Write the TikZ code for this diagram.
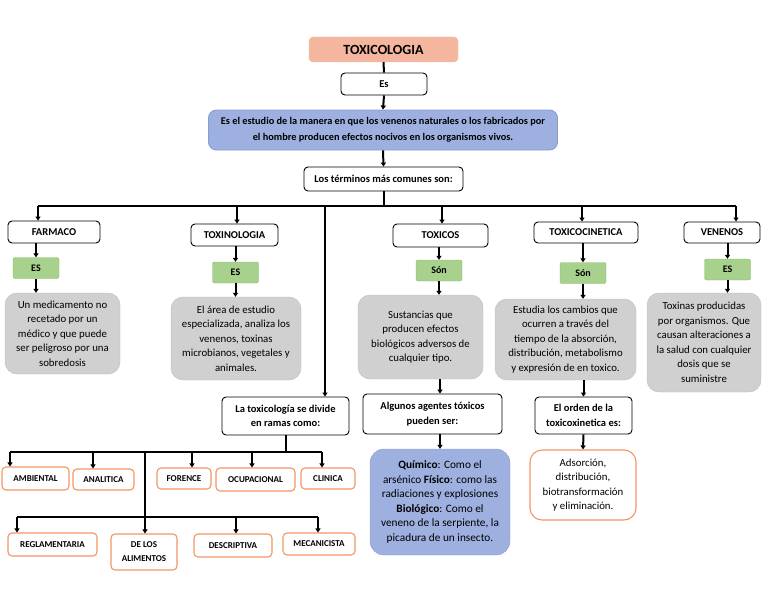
\documentclass[tikz,border=0pt]{standalone}
\usepackage{fontspec}
\setmainfont{Carlito}
\usetikzlibrary{arrows.meta}

\definecolor{titlefill}{RGB}{245,182,160}
\definecolor{deffill}{RGB}{158,176,224}
\definecolor{defline}{RGB}{136,156,212}
\definecolor{tagfill}{RGB}{169,209,142}
\definecolor{tagline}{RGB}{140,185,110}
\definecolor{notefill}{RGB}{208,208,208}
\definecolor{noteline}{RGB}{188,188,188}
\definecolor{ramaline}{RGB}{240,150,100}

\begin{document}
\begin{tikzpicture}[x=1pt,y=-1pt,
            titlebox/.style={fill=titlefill,draw=titlefill,rounded corners=4pt,inner sep=0pt,
              font=\bfseries\fontsize{14}{16}\selectfont},
            box/.style={draw=black,line width=0.9pt,fill=white,rounded corners=4pt,inner sep=0pt,
              align=center,font=\bfseries\fontsize{10.5}{14.5}\selectfont},
            tag/.style={draw=tagline,fill=tagfill,rounded corners=2pt,inner sep=0pt,
              minimum width=46pt,minimum height=21pt,font=\bfseries\fontsize{10}{11}\selectfont},
            note/.style={draw=noteline,fill=notefill,rounded corners=12pt,inner sep=0pt,
              align=center,font=\fontsize{10.8}{14.5}\selectfont},
            rama/.style={draw=ramaline,line width=1.1pt,fill=white,rounded corners=4pt,inner sep=0pt,
              align=center,font=\bfseries\fontsize{9}{14}\selectfont},
            arr/.style={line width=2pt,-{Triangle[length=4pt,width=5pt]}},
            bus/.style={line width=2pt},
            ]
            \useasboundingbox (0,0) rectangle (768,594);

            % top of the map
            \node[titlebox, minimum width=149pt, minimum height=25pt] (tox) at (383.5,49.5) {TOXICOLOGIA};
            \node[box, minimum width=86pt, minimum height=22pt] (es) at (384,84) {Es};
            \node[box, draw=defline, fill=deffill, rounded corners=8pt, minimum width=349pt, minimum height=40pt,
              font=\bfseries\fontsize{10.3}{16}\selectfont] (def) at (383,130)
              {Es el estudio de la manera en que los venenos naturales o los fabricados por\\
               el hombre producen efectos nocivos en los organismos vivos.};
            \node[box, minimum width=159pt, minimum height=24pt] (terms) at (383.5,179) {Los términos más comunes son:};

            % terms
            \node[box, minimum width=92pt, minimum height=22pt] (farmaco) at (54,232) {FARMACO};
            \node[box, minimum width=87pt, minimum height=22pt] (toxinologia) at (234.5,235) {TOXINOLOGIA};
            \node[box, minimum width=95pt, minimum height=23pt] (toxicos) at (440.5,235.5) {TOXICOS};
            \node[box, minimum width=104pt, minimum height=21pt] (toxicocin) at (586,232.5) {TOXICOCINETICA};
            \node[box, minimum width=76pt, minimum height=21pt] (venenos) at (722,232.5) {VENENOS};

            \node[tag] (es-farmaco) at (36,268) {ES};
            \node[tag] (es-toxinologia) at (235.5,272.5) {ES};
            \node[tag] (son-toxicos) at (439,270.5) {Són};
            \node[tag] (son-toxicocin) at (583,273) {Són};
            \node[tag] (es-venenos) at (727.5,269.5) {ES};

            \node[note, minimum width=115pt, minimum height=81pt] (n-farmaco) at (62.5,333.5)
              {Un medicamento no\\recetado por un\\médico y que puede\\ser peligroso por una\\sobredosis};
            \node[note, minimum width=130pt, minimum height=83pt] (n-toxinologia) at (236,338.5)
              {El área de estudio\\especializada, analiza los\\venenos, toxinas\\microbianos, vegetales y\\animales.};
            \node[note, minimum width=125pt, minimum height=84pt] (n-toxicos) at (420.5,337)
              {Sustancias que\\producen efectos\\biológicos adversos de\\cualquier tipo.};
            \node[note, minimum width=141pt, minimum height=81pt] (n-toxicocin) at (565.5,339.5)
              {Estudia los cambios que\\ocurren a través del\\tiempo de la absorción,\\distribución, metabolismo\\y expresión de en toxico.};
            \node[note, minimum width=114pt, minimum height=99pt] (n-venenos) at (704,342.5)
              {Toxinas producidas\\por organismos. Que\\causan alteraciones a\\la salud con cualquier\\dosis que se\\suministre};

            % second level
            \node[box, minimum width=127pt, minimum height=38pt] (ramas) at (285.5,416)
              {La toxicología se divide\\en ramas como:};
            \node[box, minimum width=139pt, minimum height=40pt] (agentes) at (432.5,414)
              {Algunos agentes tóxicos\\pueden ser:};
            \node[box, minimum width=97pt, minimum height=37pt] (orden) at (583.5,415.5)
              {El orden de la\\toxicoxinetica es:};
            \node[note, draw=defline, fill=deffill, rounded corners=14pt, font=\fontsize{11.3}{14.5}\selectfont,
              minimum width=140pt, minimum height=106pt] (quimico) at (440,502)
              {\textbf{Químico}: Como el\\arsénico \textbf{Físico}: como las\\radiaciones y explosiones\\
               \textbf{Biológico}: Como el\\veneno de la serpiente, la\\picadura de un insecto.};
            \node[rama, rounded corners=12pt, font=\fontsize{10.8}{14.5}\selectfont,
              minimum width=106pt, minimum height=70pt] (adsorcion) at (583,485)
              {Adsorción,\\distribución,\\biotransformación\\y eliminación.};

            % branches
            \node[rama, minimum width=67pt, minimum height=23pt] (ambiental) at (35.5,478.5) {AMBIENTAL};
            \node[rama, minimum width=61pt, minimum height=21pt] (analitica) at (103.5,479.5) {ANALITICA};
            \node[rama, minimum width=54pt, minimum height=21pt] (forence) at (184,478.5) {FORENCE};
            \node[rama, minimum width=79pt, minimum height=23pt] (ocupacional) at (255.5,479.5) {OCUPACIONAL};
            \node[rama, minimum width=54pt, minimum height=21pt] (clinica) at (328,478.5) {CLINICA};
            \node[rama, minimum width=89pt, minimum height=23pt] (reglamentaria) at (52.5,544.5) {REGLAMENTARIA};
            \node[rama, minimum width=66pt, minimum height=36pt] (alimentos) at (144,552) {DE LOS\\ALIMENTOS};
            \node[rama, minimum width=78pt, minimum height=23pt] (descriptiva) at (233,545.5) {DESCRIPTIVA};
            \node[rama, minimum width=72pt, minimum height=22pt] (mecanicista) at (319,544) {MECANICISTA};

            % connectors
            \draw[bus] (tox.south) -- (es.north);
            \draw[arr] (es.south) -- (def.north);
            \draw[arr] (def.south) -- (terms.north);

            \coordinate (busL) at (38,206);
            \coordinate (busR) at (736,206);
            \draw[bus] (terms.south) -- (terms.south |- busL);
            \draw[bus] (busL) -- (busR);
            \coordinate (d-farmaco) at (38,206);
            \coordinate (d-toxinologia) at (237,206);
            \coordinate (d-ramas) at (325,206);
            \coordinate (d-toxicos) at (442,206);
            \coordinate (d-toxicocin) at (582,206);
            \coordinate (d-venenos) at (736,206);
            \foreach \n in {farmaco,toxinologia,ramas,toxicos,toxicocin,venenos}
              \draw[arr] (d-\n) -- (d-\n |- \n.north);

            \draw[arr] (farmaco.south -| es-farmaco) -- (es-farmaco.north);
            \draw[arr] (toxinologia.south -| es-toxinologia) -- (es-toxinologia.north);
            \draw[arr] (toxicos.south -| son-toxicos) -- (son-toxicos.north);
            \draw[arr] (toxicocin.south -| son-toxicocin) -- (son-toxicocin.north);
            \draw[arr] (venenos.south -| es-venenos) -- (es-venenos.north);

            \draw[arr] (es-farmaco.south) -- (es-farmaco.south |- n-farmaco.north);
            \draw[arr] (es-toxinologia.south) -- (es-toxinologia.south |- n-toxinologia.north);
            \draw[arr] (son-toxicos.south) -- (son-toxicos.south |- n-toxicos.north);
            \draw[arr] (son-toxicocin.south) -- (son-toxicocin.south |- n-toxicocin.north);
            \draw[arr] (es-venenos.south) -- (es-venenos.south |- n-venenos.north);

            \draw[arr] (n-toxicos.south -| quimico) -- (agentes.north -| quimico);
            \draw[arr] (agentes.south -| quimico) -- (quimico.north);
            \draw[arr] (n-toxicocin.south -| orden) -- (orden.north);
            \draw[arr] (orden.south) -- (adsorcion.north);

            % ramas
            \coordinate (b1L) at (10,452);
            \coordinate (b1R) at (322,452);
            \coordinate (b2L) at (17,517);
            \coordinate (b2R) at (318,517);
            \draw[bus] (ramas.south) -- (ramas.south |- b1L);
            \draw[bus] (b1L) -- (b1R);
            \draw[bus] (b2L) -- (b2R);
            \coordinate (d-ambiental) at (10,452);
            \coordinate (d-analitica) at (93,452);
            \coordinate (d-forence) at (192,452);
            \coordinate (d-ocupacional) at (252,452);
            \coordinate (d-clinica) at (322,452);
            \coordinate (d-alimentos) at (145,452);
            \coordinate (d-reglamentaria) at (17,517);
            \coordinate (d-descriptiva) at (236,517);
            \coordinate (d-mecanicista) at (318,517);
            \foreach \n in {ambiental,analitica,forence,ocupacional,clinica,alimentos,reglamentaria,descriptiva,mecanicista}
              \draw[arr] (d-\n) -- (d-\n |- \n.north);
        \end{tikzpicture}
\end{document}
